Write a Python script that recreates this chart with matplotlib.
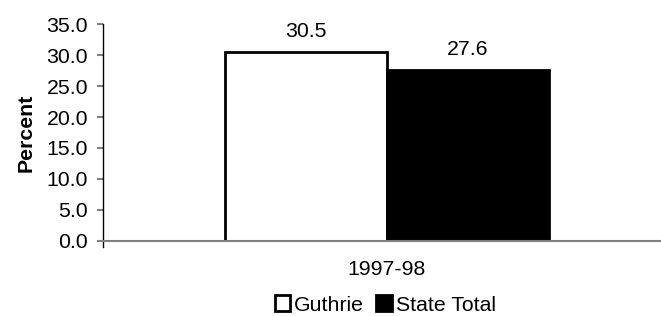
import matplotlib.pyplot as plt
import numpy as np

plt.rcParams['font.family'] = ['Liberation Sans', 'DejaVu Sans']

years = ['1997-98']
series = ['Guthrie', 'State Total']
values = [30.5, 27.6]
colors = ['white', 'black']

fs = 15.3

fig = plt.figure(figsize=(6.61, 3.16), dpi=100)
ax = fig.add_axes([0.1558, 0.2389, 1.0151 - 0.1558, 0.9225 - 0.2389])

w = 0.285
x = np.arange(len(years))
for i, (name, val, c) in enumerate(zip(series, values, colors)):
    pos = x + (i - 0.5) * w
    ax.bar(pos, [val], width=w, color=c, edgecolor='black', linewidth=2, label=name)
    ax.annotate('%.1f' % val, (pos[0], val), xytext=(0, 11), textcoords='offset points',
                ha='center', va='baseline', fontsize=fs)

ax.set_xlim(-0.5, 0.5)
ax.set_ylim(0, 35)
yt = np.arange(0, 35.1, 5)
ax.set_yticks(yt)
ax.set_yticklabels(['%.1f' % v for v in yt], fontsize=fs)
ax.set_xticks(x)
ax.set_xticklabels(years, fontsize=fs)
ax.tick_params(axis='x', length=0, pad=14)
ax.tick_params(axis='y', length=4.3, color='gray', width=1.5, pad=6.5)
ax.set_ylabel('Percent', fontsize=fs, fontweight='bold', labelpad=8)

for s in ['top', 'right']:
    ax.spines[s].set_visible(False)
ax.spines['left'].set_color('black')
ax.spines['left'].set_linewidth(1)
ax.spines['left'].set_bounds(-1.0, 35)
ax.spines['left'].set_clip_on(False)
ax.spines['bottom'].set_color('gray')
ax.spines['bottom'].set_linewidth(1.5)

ax.legend(loc='center', bbox_to_anchor=(385 / 661, 1 - 305 / 316), bbox_transform=fig.transFigure,
          ncol=2, frameon=False, fontsize=fs, handlelength=0.75, handleheight=0.75,
          handletextpad=0.15, columnspacing=0.6, borderpad=0, borderaxespad=0)

fig.savefig('out.png', dpi=100)
